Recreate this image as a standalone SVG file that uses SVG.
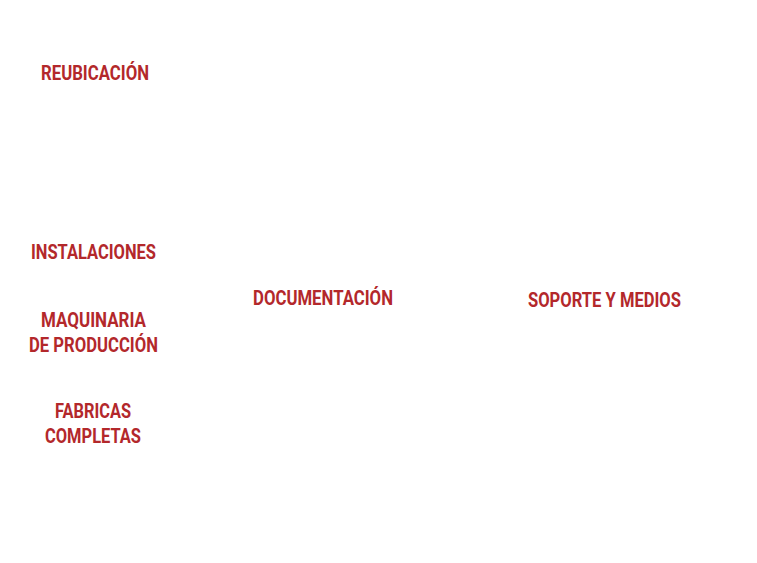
<svg xmlns="http://www.w3.org/2000/svg" width="757" height="563" viewBox="0 0 757 563">
<style>
.l{font-family:Roboto,"Liberation Sans",sans-serif;font-weight:700;font-size:20px;fill:#b3282b;text-anchor:middle}
</style>
<rect width="757" height="563" fill="#ffffff"/>
<g id="reubicacion"><text class="l" x="95" y="80" textLength="108" lengthAdjust="spacingAndGlyphs">REUBICACIÓN</text></g>
<g id="instalaciones"><text class="l" x="93.5" y="259" textLength="125" lengthAdjust="spacingAndGlyphs">INSTALACIONES</text></g>
<g id="maquinaria"><text class="l" x="93.5" y="327" textLength="105" lengthAdjust="spacingAndGlyphs">MAQUINARIA</text><text class="l" x="93.5" y="352" textLength="129" lengthAdjust="spacingAndGlyphs">DE PRODUCCIÓN</text></g>
<g id="fabricas"><text class="l" x="93" y="418" textLength="76" lengthAdjust="spacingAndGlyphs">FABRICAS</text><text class="l" x="93" y="443" textLength="96" lengthAdjust="spacingAndGlyphs">COMPLETAS</text></g>
<g id="documentacion"><text class="l" x="323" y="305" textLength="140" lengthAdjust="spacingAndGlyphs">DOCUMENTACIÓN</text></g>
<g id="soporte"><text class="l" x="604.5" y="307" textLength="153" lengthAdjust="spacingAndGlyphs">SOPORTE Y MEDIOS</text></g>
<g id="connectors"></g>
</svg>
